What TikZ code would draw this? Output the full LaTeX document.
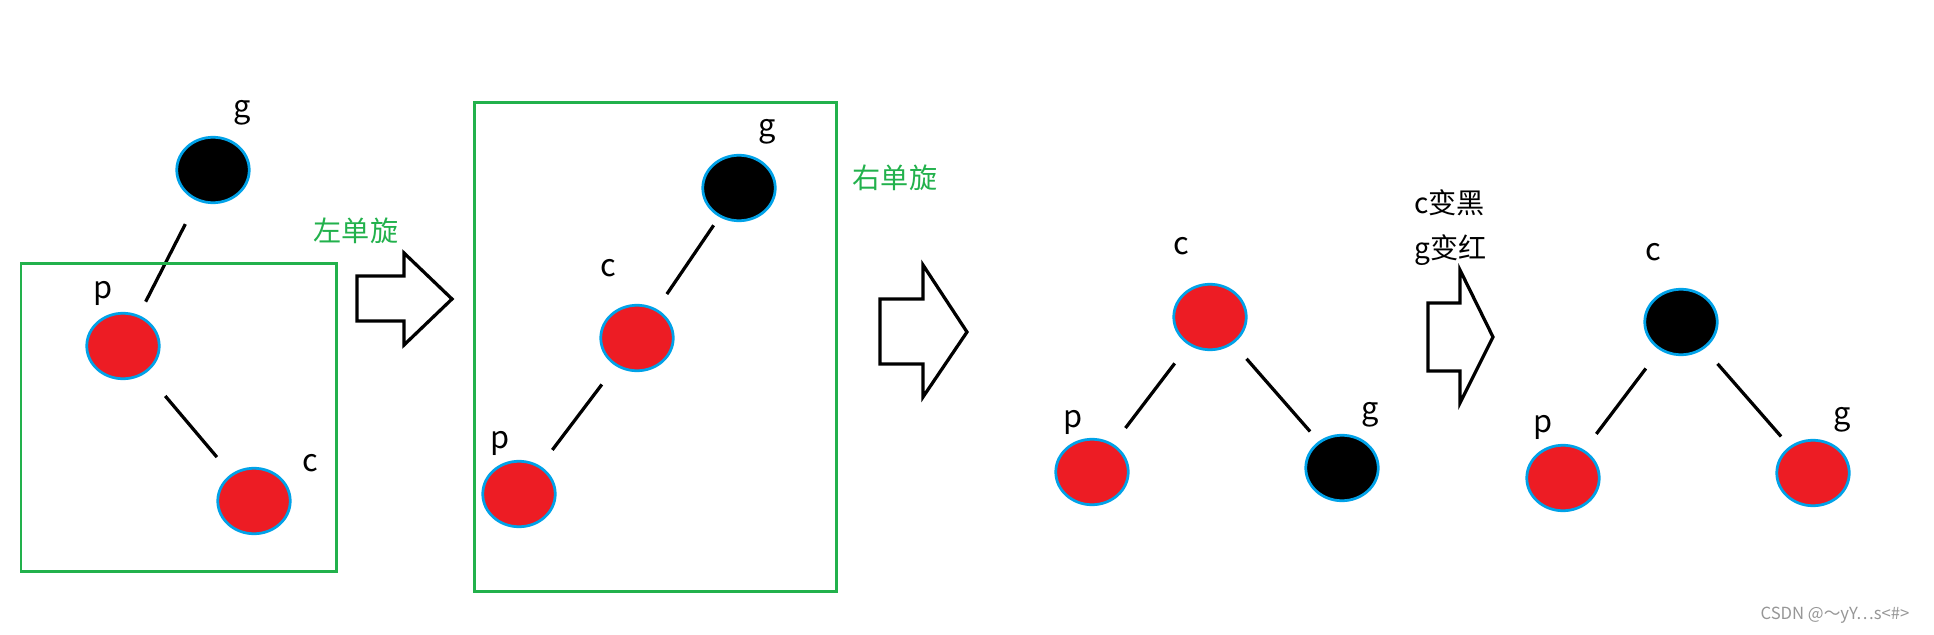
\documentclass[tikz,border=0pt]{standalone}
\usepackage{fontspec}
\setmainfont{Noto Sans CJK SC}
\usetikzlibrary{shapes.geometric}
\definecolor{rbred}{RGB}{237,28,36}
\definecolor{rimblue}{RGB}{0,162,232}
\definecolor{boxgreen}{RGB}{34,177,76}
\definecolor{markgray}{RGB}{150,150,150}

\begin{document}
\begin{tikzpicture}[x=0.02cm, y=-0.02cm,
  rbnode/.style={ellipse, draw=rimblue, line width=0.055cm, minimum width=1.45cm, minimum height=1.31cm, inner sep=0pt},
  rednode/.style={rbnode, fill=rbred},
  blacknode/.style={rbnode, fill=black},
  lbl/.style={font=\fontsize{16pt}{19pt}\selectfont, inner sep=0pt},
  ltr/.style={font=\fontsize{17.5pt}{20pt}\selectfont, inner sep=0pt},
  edge/.style={line width=0.065cm, shorten <=0.46cm, shorten >=0.4cm},
  redge/.style={edge, shorten <=0.4cm, shorten >=0.26cm},
  greenbox/.style={draw=boxgreen, line width=0.06cm},
  bigarrow/.style={draw=black, line width=0.065cm, line join=miter}]
  \useasboundingbox (0,0) rectangle (1934,635);

  % Step 1: p is the left child of g, c is the right child of p
  \node[blacknode] (g1) at (213,170) {};
  \node[rednode] (p1) at (123,346) {};
  \node[rednode] (c1) at (254,501) {};
  \node[ltr] (g1l) at (242,113) {g};
  \node[ltr] (p1l) at (103,293) {p};
  \node[ltr] (c1l) at (310,463) {c};
  \draw[edge, shorten <=0.52cm, shorten >=0.3cm] (g1) -- (p1);
  \draw[edge, shorten <=0.6cm, shorten >=0.44cm] (p1) -- (c1);
  \draw[greenbox] (21,263) rectangle (336,571);

  \node[lbl, text=boxgreen] (rotl) at (356,231) {左单旋};
  \draw[bigarrow] (357,276) -- (404,276) -- (404,253) -- (452,299) -- (404,345) -- (404,321) -- (357,321) -- cycle;

  % Step 2: after rotating left at p
  \node[blacknode] (g2) at (739,188) {};
  \node[rednode] (c2) at (637,338) {};
  \node[rednode] (p2) at (519,494) {};
  \node[ltr] (g2l) at (767,132) {g};
  \node[ltr] (c2l) at (608,268) {c};
  \node[ltr] (p2l) at (500,443) {p};
  \draw[edge, shorten <=0.2cm, shorten >=0.36cm] (g2) -- (c2);
  \draw[edge] (c2) -- (p2);
  \draw[greenbox] (474,103) rectangle (836,591);

  \node[lbl, text=boxgreen] (rotr) at (895,178) {右单旋};
  \draw[bigarrow] (880,299) -- (923,299) -- (923,265) -- (967,332) -- (923,397) -- (923,364) -- (880,364) -- cycle;

  % Step 3: after rotating right at g
  \node[rednode] (c3) at (1210,317) {};
  \node[rednode] (p3) at (1092,472) {};
  \node[blacknode] (g3) at (1342,468) {};
  \node[ltr] (c3l) at (1181,246) {c};
  \node[ltr] (p3l) at (1073,422) {p};
  \node[ltr] (g3l) at (1370,415) {g};
  \draw[edge] (c3) -- (p3);
  \draw[redge] (c3) -- (g3);

  \node[lbl, anchor=west] (recol1) at (1414,203) {c变黑};
  \node[lbl, anchor=west] (recol2) at (1414,250) {g变红};
  \draw[bigarrow] (1428,303) -- (1460,303) -- (1460,270) -- (1493,337) -- (1460,403) -- (1460,371) -- (1428,371) -- cycle;

  % Step 4: recoloured
  \node[blacknode] (c4) at (1681,322) {};
  \node[rednode] (p4) at (1563,478) {};
  \node[rednode] (g4) at (1813,473) {};
  \node[ltr] (c4l) at (1653,252) {c};
  \node[ltr] (p4l) at (1543,427) {p};
  \node[ltr] (g4l) at (1842,420) {g};
  \draw[edge] (c4) -- (p4);
  \draw[redge] (c4) -- (g4);

  \node[font=\fontsize{9.5pt}{11pt}\selectfont, text=markgray, inner sep=0pt] (wmark) at (1835,615) {CSDN @～yY…s<\#>};
\end{tikzpicture}
\end{document}
